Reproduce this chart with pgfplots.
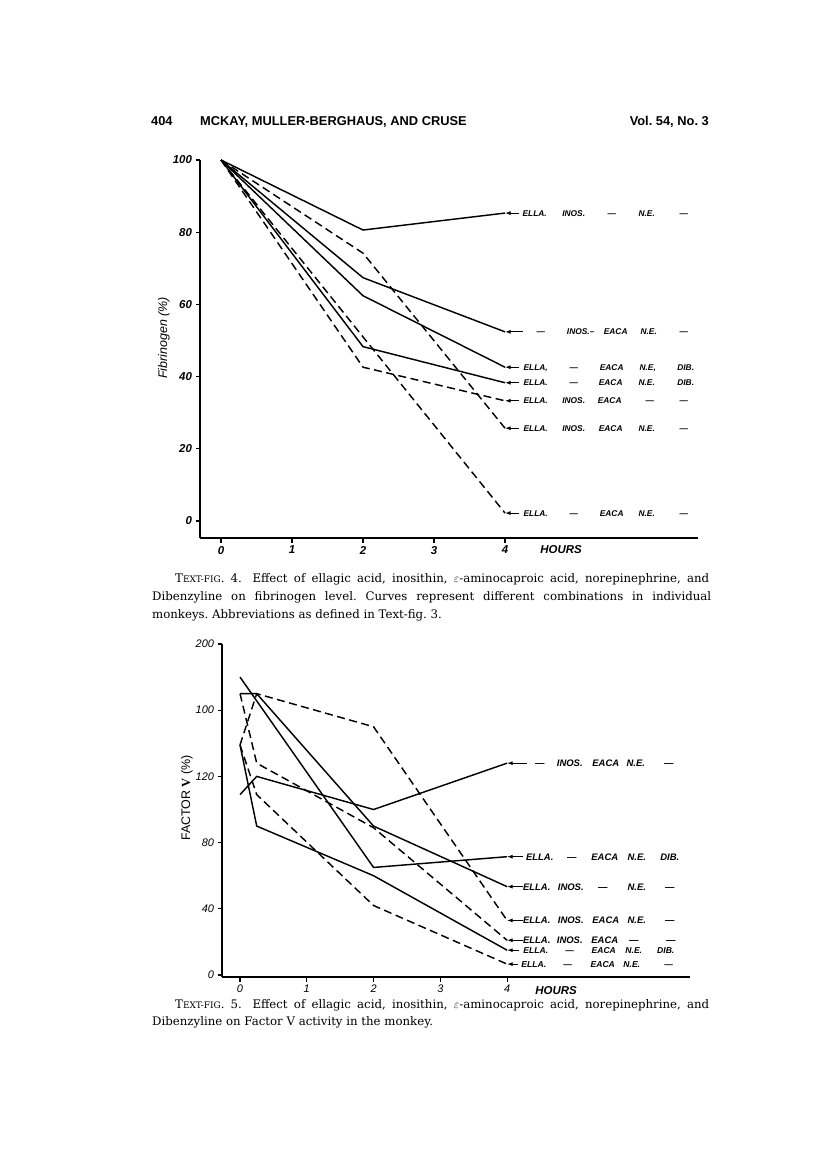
\documentclass[border=0pt]{standalone}
\usepackage{fontspec}
\setsansfont{Liberation Sans}
\newfontfamily\capfont{DejaVu Serif}
\newfontfamily\serV{Liberation Serif}
\usepackage{pgfplots}
\pgfplotsset{compat=1.18}
\usetikzlibrary{arrows.meta}
\frenchspacing
\newcommand\at[2]{\hbox to 0pt{\hskip #1bp\makebox[0pt]{#2}\hss}}
\newcommand\D{---}
\pgfplotsset{
  soln/.style={black, line width=1.45bp, no markers},
  dash/.style={black, line width=1.45bp, no markers, dash pattern=on 8bp off 4.5bp},
  pagefig/.style={
    scale only axis, clip=false,
    axis lines*=left,
    axis line style={line width=1.6bp},
    tick align=outside, major tick length=4.5bp,
    tick style={black, line width=1.1bp},
    tick label style={font=\fontsize{11.5}{13}\selectfont\sffamily\bfseries\itshape},
    /pgf/number format/assume math mode=true,
    xtick={0,1,2,3,4},
  },
}
\tikzset{arr/.style={line width=1bp, -{Latex[length=5.5bp,width=4bp]}}}
\begin{document}
\begin{tikzpicture}
\useasboundingbox[fill=white] (0,0) rectangle (816bp,-1165bp);
% header
\begin{scope}[every node/.style={inner sep=0, font=\fontsize{12.9}{14}\selectfont\sffamily\bfseries}]
\node[anchor=base west] at (151bp,-125bp) {404};
\node[anchor=base west] at (200bp,-125bp) {MCKAY, MULLER-BERGHAUS, AND CRUSE};
\node[anchor=base east] at (709bp,-125bp) {Vol. 54, No. 3};
\end{scope}

% ---------------- Text-fig 4 ----------------
\begin{axis}[pagefig,
  at={(200bp,-538bp)}, anchor=south west,
  width=498bp, height=378bp,
  xmin=-0.296, xmax=6.718, ymin=-4.71, ymax=100,
  ytick={0,20,40,60,80,100},
]
\addplot[soln] coordinates {(0,100) (2,80.6) (4,85.3)};
\addplot[soln] coordinates {(0,100) (2,67.4) (4,52.4)};
\addplot[soln] coordinates {(0,100) (2,62.4) (4,42.6)};
\addplot[soln] coordinates {(0,100) (2,48.3) (4,38.3)};
\addplot[dash] coordinates {(0,100) (2,42.6) (4,33.3)};
\addplot[dash] coordinates {(0,100) (2,74.2) (4,25.7)};
\addplot[dash] coordinates {(0,100) (2,51) (4,2.2)};
\draw[arr] ([xshift=14bp]axis cs:4,85.3) -- (axis cs:4,85.3);
\draw[arr] ([xshift=18bp]axis cs:4,52.4) -- (axis cs:4,52.4);
\draw[arr] ([xshift=14bp]axis cs:4,42.6) -- (axis cs:4,42.6);
\draw[arr] ([xshift=14bp]axis cs:4,38.3) -- (axis cs:4,38.3);
\draw[arr] ([xshift=14bp]axis cs:4,33.3) -- (axis cs:4,33.3);
\draw[arr] ([xshift=14bp]axis cs:4,25.7) -- (axis cs:4,25.7);
\draw[arr] ([xshift=14bp]axis cs:4,2.2) -- (axis cs:4,2.2);
\begin{scope}[every node/.style={anchor=base west, inner sep=0, yshift=-3bp, font=\fontsize{8.4}{9}\selectfont\sffamily\bfseries\itshape}]
\node at (axis cs:4,85.3) {\at{29}{ELLA.}\at{68}{INOS.}\at{106}{\D}\at{141}{N.E.}\at{178}{\D}};
\node at (axis cs:4,52.4) {\at{35}{\D}\at{75}{INOS.--}\at{110}{EACA}\at{143}{N.E.}\at{178}{\D}};
\node at (axis cs:4,42.6) {\at{30}{ELLA,}\at{68}{\D}\at{106}{EACA}\at{142}{N.E,}\at{180}{DIB.}};
\node at (axis cs:4,38.3) {\at{30}{ELLA.}\at{68}{\D}\at{105}{EACA}\at{141}{N.E.}\at{180}{DIB.}};
\node at (axis cs:4,33.3) {\at{30}{ELLA.}\at{68}{INOS.}\at{104}{EACA}\at{144}{\D}\at{178}{\D}};
\node at (axis cs:4,25.7) {\at{30}{ELLA.}\at{68}{INOS.}\at{105}{EACA}\at{141}{N.E.}\at{178}{\D}};
\node at (axis cs:4,2.2) {\at{30}{ELLA.}\at{68}{\D}\at{106}{EACA}\at{141}{N.E.}\at{178}{\D}};
\end{scope}
\end{axis}
\node[inner sep=0, font=\fontsize{11.5}{13}\selectfont\sffamily\bfseries\itshape] at (561bp,-550bp) {HOURS};
\node[inner sep=0, rotate=90, font=\fontsize{12.5}{14}\selectfont\sffamily\itshape] at (164bp,-338bp) {Fibrinogen (\%)};

% caption 4
\begin{scope}[every node/.style={anchor=base west, inner sep=0, font=\capfont\fontsize{11.8}{14}\selectfont}]
\node at (175bp,-582bp) {\makebox[534bp][s]{T{\fontsize{9}{10}\selectfont EXT-FIG}. 4.\hspace{0.9em}Effect of ellagic acid, inosithin, $\varepsilon$-aminocaproic acid, norepinephrine, and}};
\node at (152bp,-600bp) {\makebox[559bp][s]{Dibenzyline on fibrinogen level. Curves represent different combinations in individual}};
\node at (152bp,-618bp) {monkeys. Abbreviations as defined in Text-fig. 3.};
\end{scope}

% ---------------- Text-fig 5 ----------------
\begin{axis}[pagefig,
  at={(222bp,-977bp)}, anchor=south west,
  width=468bp, height=333bp,
  xmin=-0.27, xmax=6.74, ymin=-1.2, ymax=200,
  ytick={0,40,80,120,160,200},
  yticklabels={0,40,80,120,100,200},
  tick label style={font=\fontsize{11}{12}\selectfont\sffamily\itshape},
]
\addplot[soln] coordinates {(0,109) (0.25,120) (2,100) (4,128)};
\addplot[soln] coordinates {(0,180) (2,65) (4,71.5)};
\addplot[soln] coordinates {(0,170) (0.25,170) (2,90) (4,53.4)};
\addplot[soln] coordinates {(0,139) (0.25,90) (2,60) (4,15)};
\addplot[dash] coordinates {(0,139) (0.25,170) (2,150) (4,33)};
\addplot[dash] coordinates {(0,170) (0.25,128) (2,89) (4,21)};
\addplot[dash] coordinates {(0,139) (0.25,109) (2,42) (4,6.6)};
\draw[arr] ([xshift=20bp]axis cs:4,128) -- (axis cs:4,128);
\draw[arr] ([xshift=16bp]axis cs:4,71.5) -- (axis cs:4,71.5);
\draw[arr] ([xshift=16bp]axis cs:4,53.4) -- (axis cs:4,53.4);
\draw[arr] ([xshift=16bp]axis cs:4,33) -- (axis cs:4,33);
\draw[arr] ([xshift=16bp]axis cs:4,21) -- (axis cs:4,21);
\draw[arr] ([xshift=12bp]axis cs:4,15) -- (axis cs:4,15);
\draw[arr] ([xshift=11bp]axis cs:4,6.6) -- (axis cs:4,6.6);
\begin{scope}[every node/.style={anchor=base west, inner sep=0, yshift=-3.4bp, font=\fontsize{9.5}{10}\selectfont\sffamily\bfseries\itshape}]
\node at (axis cs:4,128) {\at{32}{\D}\at{62}{INOS.}\at{98}{EACA}\at{128}{N.E.}\at{161}{\D}};
\node at (axis cs:4,71.5) {\at{32}{ELLA.}\at{64}{\D}\at{97}{EACA}\at{129}{N.E.}\at{162}{DIB.}};
\node at (axis cs:4,53.4) {\at{29}{ELLA.}\at{63}{INOS.}\at{95}{\D}\at{129}{N.E.}\at{162}{\D}};
\node at (axis cs:4,33) {\at{29}{ELLA.}\at{63}{INOS.}\at{98}{EACA}\at{129}{N.E.}\at{162}{\D}};
\node at (axis cs:4,21) {\at{29}{ELLA.}\at{62}{INOS.}\at{97}{EACA}\at{126}{\D}\at{163}{\D}};
\end{scope}
\begin{scope}[every node/.style={anchor=base west, inner sep=0, yshift=-3bp, font=\fontsize{8.6}{9}\selectfont\sffamily\bfseries\itshape}]
\node at (axis cs:4,15) {\at{28}{ELLA.}\at{62}{\D}\at{96}{EACA}\at{126}{N.E.}\at{158}{DIB.}};
\node at (axis cs:4,6.6) {\at{26}{ELLA.}\at{60}{\D}\at{95}{EACA}\at{124}{N.E.}\at{161}{\D}};
\end{scope}
\end{axis}
\node[inner sep=0, font=\fontsize{11.5}{13}\selectfont\sffamily\bfseries\itshape] at (556bp,-991bp) {HOURS};
\node[inner sep=0, rotate=90, font=\fontsize{12.5}{14}\selectfont\sffamily] at (187bp,-798bp) {FACTOR {\serV\bfseries V} (\%)};

% caption 5
\begin{scope}[every node/.style={anchor=base west, inner sep=0, font=\capfont\fontsize{11.8}{14}\selectfont}]
\node at (175bp,-1008bp) {\makebox[534bp][s]{T{\fontsize{9}{10}\selectfont EXT-FIG}. 5.\hspace{0.9em}Effect of ellagic acid, inosithin, $\varepsilon$-aminocaproic acid, norepinephrine, and}};
\node at (152bp,-1025bp) {Dibenzyline on Factor V activity in the monkey.};
\end{scope}
\end{tikzpicture}
\end{document}
